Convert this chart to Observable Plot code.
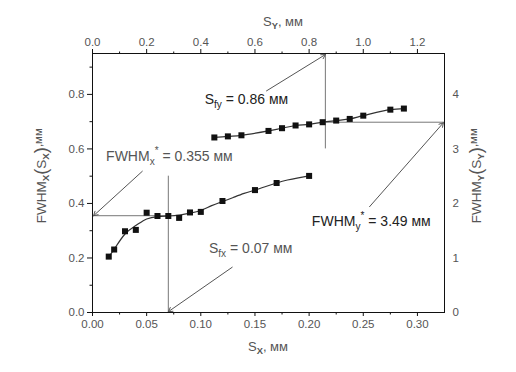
<!DOCTYPE html>
<html><head><meta charset="utf-8">
<script src="https://cdn.jsdelivr.net/npm/d3@7"></script>
<script src="https://cdn.jsdelivr.net/npm/@observablehq/plot@0.6"></script>
<style>
body{margin:0;background:#fff}
svg{font-family:Arial,"Liberation Sans",sans-serif}
</style>
</head><body><div id="chart"></div>
<script>
// ---- data ----
const sx     = [0.015,0.020,0.030,0.040,0.050,0.060,0.070,0.080,0.090,0.100,0.120,0.150,0.170,0.200];
const fwhmX  = [0.205,0.231,0.298,0.303,0.366,0.354,0.354,0.347,0.367,0.369,0.409,0.449,0.475,0.501];
const fitSx  = [0.015,0.020,0.030,0.040,0.050,0.060,0.070,0.080,0.090,0.100,0.110,0.120,0.130,0.140,0.150,0.160,0.170,0.180,0.190,0.200];
const fitFx  = [0.205,0.232,0.288,0.319,0.343,0.352,0.354,0.357,0.364,0.374,0.392,0.407,0.422,0.437,0.449,0.462,0.475,0.486,0.494,0.501];
const sy     = [0.45,0.50,0.55,0.65,0.70,0.75,0.80,0.85,0.90,0.95,1.00,1.10,1.15];
const fwhmY  = [3.21,3.23,3.25,3.33,3.38,3.43,3.45,3.49,3.52,3.55,3.61,3.72,3.74];
const bottomTicks = [0,0.05,0.10,0.15,0.20,0.25,0.30];
const bottomMinor = [0.025,0.075,0.125,0.175,0.225,0.275];
const topTicks    = [0,0.2,0.4,0.6,0.8,1.0,1.2];
const topMinor    = [0.1,0.3,0.5,0.7,0.9,1.1];
const leftTicks   = [0,0.2,0.4,0.6,0.8];
const leftMinor   = [0.1,0.3,0.5,0.7,0.9];
const rightTicks  = [0,1,2,3,4];
const xMax = 0.325, yMax = 0.95, topMax = 1.3, rightMax = 4.75;
const sfx = 0.07, fwhmXStar = 0.355, sfy = 0.86, fwhmYStar = 3.49;
// arrows (bottom/left units)  [x,y]
const arrowFrom = [[0.046,0.518],[0.129,0.166],[0.1607,0.813],[0.2558,0.388]];
const arrowTo   = [[0.001,0.355],[0.070,0.003],[0.215,0.946],[0.324,0.696]];

const KX = xMax / topMax, KY = yMax / rightMax;
const lower = sx.map((x,i)=>({x, y:fwhmX[i]}));
const lowerFit = fitSx.map((x,i)=>({x, y:fitFx[i]}));
const upper = sy.map((x,i)=>({x:x*KX, y:fwhmY[i]*KY}));
const arrows = arrowFrom.map((f,i)=>({x1:f[0],y1:f[1],x2:arrowTo[i][0],y2:arrowTo[i][1]}));
const hRules = [{y:fwhmXStar, x1:0, x2:sfx},{y:fwhmYStar*KY, x1:sfy*KX, x2:xMax}];
const vRules = [{x:sfx, y1:0, y2:0.5},{x:sfy*KX, y1:3.0*KY, y2:yMax}];

const grey = "#777";
const plot = Plot.plot({
  width:516, height:372,
  marginTop:53, marginRight:72, marginBottom:60, marginLeft:92,
  style:{fontFamily:"Arial, 'Liberation Sans', sans-serif", fontSize:"11.5px", color:"#111", background:"#fff"},
  x:{domain:[0,xMax]}, y:{domain:[0,yMax]},
  marks:[
    Plot.ruleY(hRules,{y:"y",x1:"x1",x2:"x2",stroke:grey,strokeWidth:1}),
    Plot.ruleX(vRules,{x:"x",y1:"y1",y2:"y2",stroke:grey,strokeWidth:1}),
    Plot.line(lowerFit,{x:"x",y:"y",curve:"natural",stroke:"#333",strokeWidth:1.2}),
    Plot.line(upper,{x:"x",y:"y",curve:"catmull-rom",stroke:"#333",strokeWidth:1.2}),
    Plot.dot(lower,{x:"x",y:"y",symbol:"square",r:3.4,fill:"#111",stroke:null}),
    Plot.dot(upper,{x:"x",y:"y",symbol:"square",r:3.4,fill:"#111",stroke:null}),
    Plot.arrow(arrows,{x1:"x1",y1:"y1",x2:"x2",y2:"y2",stroke:"#555",strokeWidth:1,headLength:7}),
    Plot.axisX({anchor:"bottom",ticks:bottomTicks,tickFormat:d3.format(".2f"),tickSize:4,tickPadding:3,label:null}),
    Plot.axisX({anchor:"bottom",ticks:bottomMinor,tickFormat:()=>"",tickSize:2.5,label:null}),
    Plot.axisX({anchor:"top",ticks:topTicks.map(v=>v*KX),tickFormat:d=>d3.format(".1f")(d/KX),tickSize:5,tickPadding:3,label:null}),
    Plot.axisX({anchor:"top",ticks:topMinor.map(v=>v*KX),tickFormat:()=>"",tickSize:2.5,label:null}),
    Plot.axisY({anchor:"left",ticks:leftTicks,tickFormat:d3.format(".1f"),tickSize:5,tickPadding:3,label:null}),
    Plot.axisY({anchor:"left",ticks:leftMinor,tickFormat:()=>"",tickSize:2.5,label:null}),
    Plot.axisY({anchor:"right",ticks:rightTicks.map(v=>v*KY),tickFormat:d=>String(Math.round(d/KY)),tickSize:0,tickPadding:8,label:null}),
    Plot.frame({stroke:"#111",strokeWidth:1})
  ]
});
document.getElementById("chart").appendChild(plot);

const svg = d3.select(plot);
svg.selectAll('g[aria-label$="tick label"] text').attr("fill","#555");
const xs = plot.scale("x"), ys = plot.scale("y");

// text with sub/superscripts; shifts in px relative to the base size
function rich(parts, x, y, opts={}) {
  const size = opts.size || 13;
  const t = svg.append("text").attr("x",x).attr("y",y)
    .attr("fill",opts.fill||"#444").attr("font-size",size)
    .attr("text-anchor",opts.anchor||"start").attr("dominant-baseline","middle");
  if (opts.rotate) t.attr("transform",`rotate(-90 ${x} ${y})`);
  let shift = 0;
  for (const p of parts) {
    const s = t.append("tspan").text(p.t);
    const target = (p.sub ? 0.32 : p.sup ? -0.42 : (p.off||0)) * size;
    const dy = target - shift;
    if (dy !== 0) s.attr("dy", dy.toFixed(2) + "px");
    shift = target;
    const fs = p.fs || ((p.sub || p.sup) ? 0.72 : 1);
    if (fs !== 1) s.attr("font-size", (fs*size).toFixed(2) + "px");
    if (p.bold) s.attr("font-weight","bold");
  }
  return t;
}
// axis titles
rich([{t:"S"},{t:"X",sub:true,bold:true},{t:", мм"}], xs.apply(xMax/2), 348, {anchor:"middle", size:13, fill:"#555"});
rich([{t:"S"},{t:"Y",sub:true,bold:true},{t:", мм"}], xs.apply(xMax/2)+15, 23, {anchor:"middle", size:13, fill:"#555"});
rich([{t:"FWHM"},{t:"X",sub:true,bold:true},{t:"(",fs:1.35},{t:"S"},{t:"X",sub:true,bold:true},{t:")",fs:1.35},{t:",мм",off:-0.25,fs:0.85}], 42, ys.apply(0.5), {anchor:"middle", size:13.5, fill:"#555", rotate:true});
rich([{t:"FWHM"},{t:"Y",sub:true,bold:true},{t:"(",fs:1.35},{t:"S"},{t:"Y",sub:true,bold:true},{t:")",fs:1.35},{t:",мм",off:-0.25,fs:0.85}], 477, ys.apply(0.5), {anchor:"middle", size:13.5, fill:"#555", rotate:true});
// annotations
rich([{t:"S"},{t:"fy",sub:true},{t:" = 0.86 мм"}], xs.apply(0.104), ys.apply(0.777), {size:14, fill:"#222"});
rich([{t:"FWHM"},{t:"x",sub:true},{t:"*",sup:true},{t:" = 0.355 мм"}], xs.apply(0.013), ys.apply(0.568), {size:14, fill:"#555"});
rich([{t:"S"},{t:"fx",sub:true},{t:" = 0.07 мм"}], xs.apply(0.108), ys.apply(0.231), {size:14, fill:"#555"});
rich([{t:"FWHM"},{t:"y",sub:true},{t:"*",sup:true},{t:" = 3.49 мм"}], xs.apply(0.203), ys.apply(0.33), {size:14, fill:"#222"});
</script>
</body></html>
